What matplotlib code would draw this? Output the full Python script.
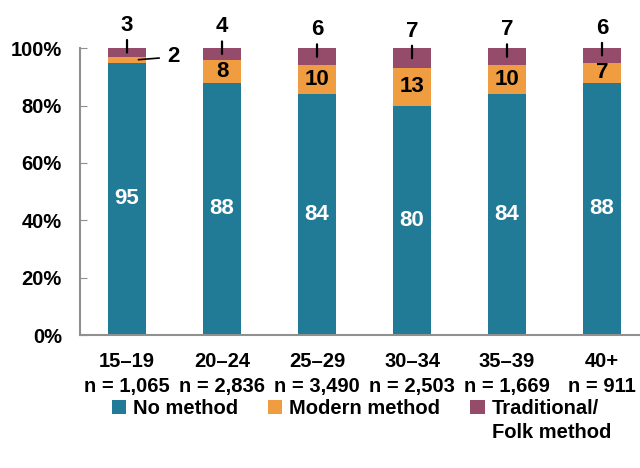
import matplotlib
matplotlib.use('Agg')
import matplotlib.pyplot as plt

categories = ['15–19', '20–24', '25–29', '30–34', '35–39', '40+']
sample_sizes = ['1,065', '2,836', '3,490', '2,503', '1,669', '911']
no_method = [95, 88, 84, 80, 84, 88]
modern = [2, 8, 10, 13, 10, 7]
traditional = [3, 4, 6, 7, 7, 6]

c_none = '#227b96'
c_modern = '#f09c41'
c_trad = '#954c6b'

plt.rcParams['font.family'] = ['Liberation Sans', 'DejaVu Sans']
plt.rcParams['font.weight'] = 'bold'

fig = plt.figure(figsize=(6.4, 4.68), dpi=100)
ax = fig.add_axes([0.125, 0.284, 0.875, 0.613])

x = range(len(categories))
w = 0.4
b1 = ax.bar(x, no_method, w, color=c_none, label='No method')
b2 = ax.bar(x, modern, w, bottom=no_method, color=c_modern,
            label='Modern method')
tops = [a + b for a, b in zip(no_method, modern)]
b3 = ax.bar(x, traditional, w, bottom=tops, color=c_trad,
            label='Traditional/')

for i in x:
    ax.text(i, no_method[i] / 2, str(no_method[i]), ha='center', va='center',
            color='white', fontsize=16, fontweight='bold')
    if modern[i] >= 5:
        ax.text(i, no_method[i] + modern[i] / 2, str(modern[i]), ha='center',
                va='center', color='black', fontsize=16, fontweight='bold')
    else:
        ax.annotate(str(modern[i]), xy=(i + 0.12, no_method[i] + modern[i] / 2),
                    xytext=(21, 2), textcoords='offset points', ha='left',
                    va='center', fontsize=16, fontweight='bold',
                    arrowprops=dict(arrowstyle='-', color='black', lw=1.2,
                                    shrinkA=4, shrinkB=0))
    mid = (tops[i] + min(tops[i] + traditional[i], 100)) / 2
    ax.annotate(str(traditional[i]), xy=(i, mid),
                xytext=(0, 12), textcoords='offset points', ha='center',
                va='bottom', fontsize=16, fontweight='bold',
                arrowprops=dict(arrowstyle='-', color='black', lw=1.6,
                                shrinkA=1, shrinkB=0))

ax.set_ylim(0, 100)
ax.set_xlim(-0.495, 5.4)
ax.set_yticks([0, 20, 40, 60, 80, 100])
ax.set_yticklabels(['0%', '20%', '40%', '60%', '80%', '100%'])
ax.set_xticks(list(x))
ax.set_xticklabels([c + '\nn = ' + n for c, n in zip(categories, sample_sizes)],
                   linespacing=1.4)
ax.tick_params(axis='y', direction='in', length=5, color='#909090',
               labelsize=14.5, pad=13)
ax.tick_params(axis='x', length=0, labelsize=14.5, pad=12)
for s in ['top', 'right']:
    ax.spines[s].set_visible(False)
ax.spines['left'].set_color('#909090')
ax.spines['bottom'].set_color('#909090')
ax.spines['left'].set_linewidth(1.5)
ax.spines['bottom'].set_linewidth(1.5)

leg = fig.legend(handles=[b1, b2, b3], loc='center', bbox_to_anchor=(0.555, 0.127),
                 ncol=3, frameon=False, fontsize=14.5, handlelength=0.7,
                 handleheight=0.7, handletextpad=0.35, columnspacing=1.5)
fig.canvas.draw()
bb = leg.get_texts()[2].get_window_extent()
inv = fig.transFigure.inverted()
x0, y0 = inv.transform((bb.x0, bb.y0))
fig.text(x0, y0 - 0.01, 'Folk method', ha='left', va='top', fontsize=14.5,
         fontweight='bold')

plt.savefig('out.png', dpi=100)
plt.close()
